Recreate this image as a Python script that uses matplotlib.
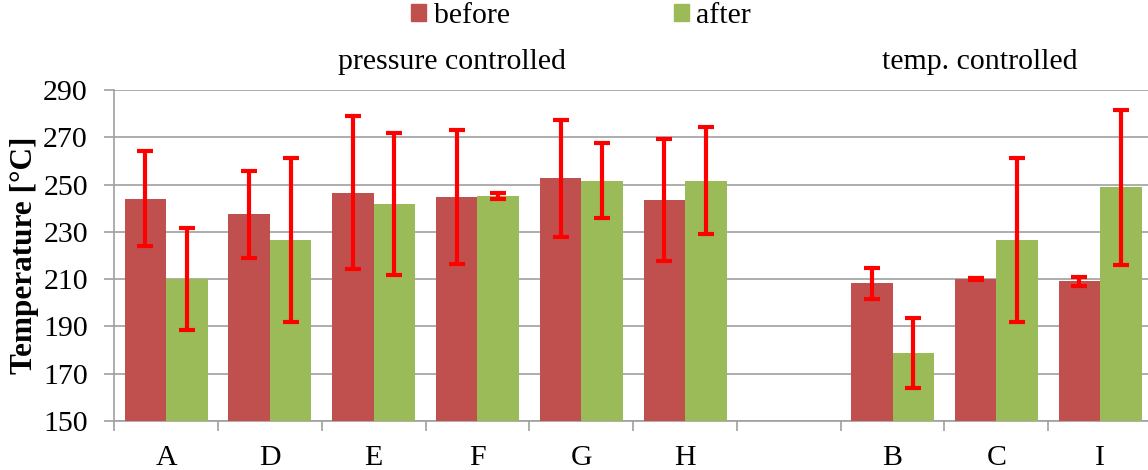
import matplotlib
matplotlib.use("Agg")
import matplotlib.pyplot as plt
import numpy as np
from matplotlib.patches import Patch

categories = ["A", "D", "E", "F", "G", "H", "", "B", "C", "I"]
before = [244.0, 237.4, 246.6, 244.6, 252.6, 243.5, np.nan, 208.2, 210.0, 209.2]
after = [210.0, 226.5, 241.8, 245.2, 251.6, 251.6, np.nan, 178.9, 226.5, 248.8]
before_err = [20.0, 18.3, 32.2, 28.3, 24.8, 25.9, np.nan, 6.7, 0.3, 1.9]
after_err = [21.7, 34.6, 30.0, 1.2, 15.8, 22.6, np.nan, 14.8, 34.7, 32.8]
yticks = [150, 170, 190, 210, 230, 250, 270, 290]

plt.rcParams['font.family'] = ['Liberation Serif', 'DejaVu Serif']

W, H = 1148, 470
fig = plt.figure(figsize=(W / 100, H / 100), dpi=100)
ax = fig.add_axes([114.3 / W, (H - 421) / H, (1152 - 114.3) / W, (421 - 90) / H])

x = np.arange(len(categories))
bw = 0.4
red = "#C0504D"
green = "#9BBB59"
ekw = dict(ecolor="#FF0000", elinewidth=3.0, capsize=6, capthick=3.0)

ax.bar(x - bw / 2, before, bw, color=red, yerr=before_err, error_kw=ekw, zorder=3, label="before")
ax.bar(x + bw / 2, after, bw, color=green, yerr=after_err, error_kw=ekw, zorder=3, label="after")

ax.set_xlim(-0.5, len(categories) - 0.5)
ax.set_ylim(150, 290)
ax.set_yticks(yticks)
ax.yaxis.grid(True, color="#A0A0A0", linewidth=1.2, zorder=0)
ax.set_axisbelow(True)

ax.set_xticks(x)
ax.set_xticklabels(categories)
ax.set_xticks(np.arange(-0.5, len(categories), 1.0), minor=True)
ax.tick_params(axis="x", which="major", length=0, pad=17, labelsize=21.5)
ax.tick_params(axis="x", which="minor", length=7, width=1.2, color="#A0A0A0", direction="out")
ax.tick_params(axis="y", length=7, width=1.2, color="#A0A0A0", direction="out", pad=12, labelsize=21.5)

for s in ["top", "right"]:
    ax.spines[s].set_visible(False)
for s in ["left", "bottom"]:
    ax.spines[s].set_color("#A0A0A0")
    ax.spines[s].set_linewidth(1.2)

ax.set_ylabel("Temperature [°C]", fontsize=22.5, fontweight="bold", labelpad=3)

fig.text(452 / W, 1 - 62 / H, "pressure controlled", ha="center", va="center", fontsize=21.5)
fig.text(980 / W, 1 - 62 / H, "temp. controlled", ha="center", va="center", fontsize=21.5)

handles = [Patch(color=red, label="before"), Patch(color=green, label="after")]
fig.legend(handles=handles, loc="center", bbox_to_anchor=(581 / W, 1 - 16 / H), ncol=2,
           frameon=False, fontsize=21.5, handlelength=0.5, handleheight=0.5,
           handletextpad=0.25, columnspacing=5.5, borderpad=0)

fig.savefig("out.png", dpi=100)
